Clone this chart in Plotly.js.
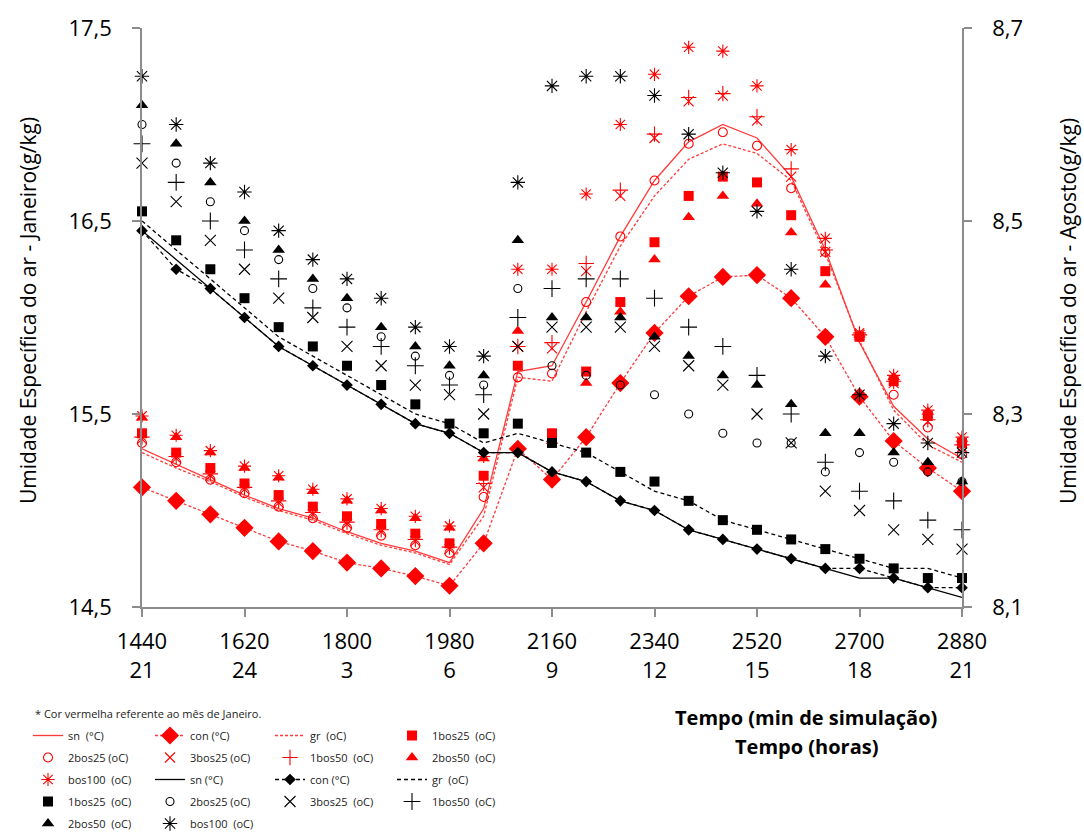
<!DOCTYPE html>
<html>
<head>
<meta charset="utf-8">
<script src="https://cdn.plot.ly/plotly-3.0.1.min.js"></script>
<style>
  html, body { margin: 0; padding: 0; background: #ffffff; }
  #chart { width: 1084px; height: 833px; }
</style>
</head>
<body>
<div id="chart"></div>
<script>
// Simulation time (minutes) and the matching clock hour labels
const minutes = [1440,1500,1560,1620,1680,1740,1800,1860,1920,1980,2040,2100,2160,
                 2220,2280,2340,2400,2460,2520,2580,2640,2700,2760,2820,2880];
const tickMinutes = [1440,1620,1800,1980,2160,2340,2520,2700,2880];
const tickHours = ['21','24','3','6','9','12','15','18','21'];

// January specific humidity (g/kg) - left axis
const janSn     = [15.32,15.24,15.16,15.08,15.01,14.96,14.89,14.83,14.79,14.73,15.01,15.72,15.75,16.08,16.42,16.71,16.91,17.00,16.93,16.73,16.35,15.87,15.54,15.37,15.27];
const janCon    = [15.12,15.05,14.98,14.91,14.84,14.79,14.73,14.70,14.66,14.61,14.83,15.32,15.16,15.38,15.66,15.92,16.11,16.21,16.22,16.10,15.90,15.59,15.36,15.22,15.10];
const janGr     = [15.30,15.22,15.15,15.07,15.00,14.95,14.88,14.82,14.78,14.72,14.97,15.69,15.67,16.03,16.37,16.63,16.82,16.90,16.85,16.71,16.33,15.88,15.52,15.34,15.25];
const jan1bos25 = [15.40,15.30,15.22,15.14,15.08,15.02,14.97,14.93,14.88,14.83,15.18,15.75,15.40,15.72,16.08,16.39,16.63,16.73,16.70,16.53,16.24,15.90,15.67,15.49,15.35];
const jan2bos25 = [15.35,15.25,15.16,15.09,15.02,14.96,14.91,14.87,14.82,14.78,15.07,15.69,15.71,16.08,16.42,16.71,16.90,16.96,16.89,16.67,16.34,15.90,15.60,15.43,15.29];
const jan3bos25 = [15.37,15.27,15.18,15.11,15.04,14.98,14.93,14.89,14.84,14.80,15.12,15.85,15.84,16.24,16.63,16.93,17.12,17.15,17.02,16.73,16.34,15.91,15.66,15.46,15.33];
const jan1bos50 = [15.38,15.28,15.19,15.12,15.05,14.99,14.94,14.90,14.85,14.81,15.14,15.85,15.87,16.28,16.66,16.95,17.14,17.16,17.04,16.77,16.35,15.91,15.67,15.47,15.34];
const jan2bos50 = [15.48,15.38,15.30,15.22,15.17,15.10,15.05,15.00,14.96,14.91,15.27,15.93,15.36,15.66,16.03,16.30,16.52,16.63,16.59,16.44,16.17,15.91,15.69,15.51,15.37];
const janBos100 = [15.49,15.39,15.31,15.23,15.18,15.11,15.06,15.01,14.97,14.92,15.28,16.25,16.25,16.64,17.00,17.26,17.40,17.38,17.20,16.87,16.41,15.92,15.70,15.52,15.38];

// August specific humidity (g/kg) - right axis
const augSn     = [8.49,8.46,8.43,8.40,8.37,8.35,8.33,8.31,8.29,8.28,8.26,8.26,8.24,8.23,8.21,8.20,8.18,8.17,8.16,8.15,8.14,8.13,8.13,8.12,8.11];
const augCon    = [8.49,8.45,8.43,8.40,8.37,8.35,8.33,8.31,8.29,8.28,8.26,8.26,8.24,8.23,8.21,8.20,8.18,8.17,8.16,8.15,8.14,8.14,8.13,8.12,8.12];
const augGr     = [8.50,8.47,8.44,8.41,8.38,8.36,8.34,8.32,8.30,8.29,8.27,8.28,8.27,8.26,8.24,8.22,8.21,8.19,8.18,8.17,8.16,8.15,8.14,8.14,8.13];
const aug1bos25 = [8.51,8.48,8.45,8.42,8.39,8.37,8.35,8.33,8.31,8.29,8.28,8.29,8.27,8.26,8.24,8.23,8.21,8.19,8.18,8.17,8.16,8.15,8.14,8.13,8.13];
const aug2bos25 = [8.60,8.56,8.52,8.49,8.46,8.43,8.41,8.38,8.36,8.34,8.33,8.43,8.35,8.34,8.33,8.32,8.30,8.28,8.27,8.27,8.24,8.26,8.25,8.24,8.23];
const aug3bos25 = [8.56,8.52,8.48,8.45,8.42,8.40,8.37,8.35,8.33,8.32,8.30,8.37,8.39,8.39,8.39,8.37,8.35,8.33,8.30,8.27,8.22,8.20,8.18,8.17,8.16];
const aug1bos50 = [8.58,8.54,8.50,8.47,8.44,8.41,8.39,8.37,8.35,8.33,8.32,8.40,8.43,8.44,8.44,8.42,8.39,8.37,8.34,8.30,8.25,8.22,8.21,8.19,8.18];
const aug2bos50 = [8.62,8.58,8.54,8.50,8.47,8.44,8.42,8.39,8.37,8.35,8.34,8.48,8.40,8.40,8.40,8.38,8.36,8.34,8.33,8.31,8.28,8.28,8.26,8.25,8.23];
const augBos100 = [8.65,8.60,8.56,8.53,8.49,8.46,8.44,8.42,8.39,8.37,8.36,8.54,8.64,8.65,8.65,8.63,8.59,8.55,8.51,8.45,8.36,8.32,8.29,8.27,8.26];

const RED = '#ff0000';
const RED_LINE = '#ff3b3b';
const BLACK = '#000000';
const FONT = 'Open Sans, Noto Sans, sans-serif';

function lineTrace(name, y, axis, color, dash, legend, marker) {
  const t = {
    type: 'scatter', x: minutes, y: y, yaxis: axis, name: name,
    mode: marker ? 'lines+markers' : 'lines',
    line: { color: color, width: 1.3, dash: dash },
    legend: legend, legendgroup: name + axis,
    cliponaxis: false, hoverinfo: 'x+y+name'
  };
  if (marker) t.marker = marker;
  return t;
}
function markerTrace(name, y, axis, legend, marker) {
  return {
    type: 'scatter', x: minutes, y: y, yaxis: axis, name: name,
    mode: 'markers', marker: marker, legend: legend, legendgroup: name + axis,
    cliponaxis: false, hoverinfo: 'x+y+name'
  };
}
const thin = (color) => ({ color: color, width: 1.1 });

const traces = [
  // January (red, left axis)
  lineTrace('sn  (°C)', janSn, 'y', RED_LINE, 'solid', 'legend'),
  lineTrace('con (°C)', janCon, 'y', RED_LINE, '3px,2px', 'legend2',
            { symbol: 'diamond', size: 14, color: RED }),
  lineTrace('gr  (oC)', janGr, 'y', RED_LINE, '3px,2px', 'legend3'),
  markerTrace('1bos25  (oC)', jan1bos25, 'y', 'legend4',
            { symbol: 'square', size: 10, color: RED }),
  markerTrace('2bos25 (oC)', jan2bos25, 'y', 'legend',
            { symbol: 'circle-open', size: 9, color: RED, line: thin(RED) }),
  markerTrace('3bos25 (oC)', jan3bos25, 'y', 'legend2',
            { symbol: 'x-thin-open', size: 10, color: RED, line: thin(RED) }),
  markerTrace('1bos50  (oC)', jan1bos50, 'y', 'legend3',
            { symbol: 'cross-thin-open', size: 11, color: RED, line: thin(RED) }),
  markerTrace('2bos50  (oC)', jan2bos50, 'y', 'legend4',
            { symbol: 'triangle-up', size: 11, color: RED }),
  markerTrace('bos100  (oC)', janBos100, 'y', 'legend',
            { symbol: 'asterisk-open', size: 11, color: RED, line: thin(RED) }),
  // August (black, right axis)
  lineTrace('sn (°C)', augSn, 'y2', BLACK, 'solid', 'legend2'),
  lineTrace('con (°C)', augCon, 'y2', BLACK, '4px,3px', 'legend3',
            { symbol: 'diamond', size: 9, color: BLACK }),
  lineTrace('gr  (oC)', augGr, 'y2', BLACK, '4px,3px', 'legend4'),
  markerTrace('1bos25  (oC)', aug1bos25, 'y2', 'legend',
            { symbol: 'square', size: 10, color: BLACK }),
  markerTrace('2bos25 (oC)', aug2bos25, 'y2', 'legend2',
            { symbol: 'circle-open', size: 8, color: BLACK, line: thin(BLACK) }),
  markerTrace('3bos25  (oC)', aug3bos25, 'y2', 'legend3',
            { symbol: 'x-thin-open', size: 11, color: BLACK, line: thin(BLACK) }),
  markerTrace('1bos50  (oC)', aug1bos50, 'y2', 'legend4',
            { symbol: 'cross-thin-open', size: 12, color: BLACK, line: thin(BLACK) }),
  markerTrace('2bos50  (oC)', aug2bos50, 'y2', 'legend',
            { symbol: 'triangle-up', size: 11, color: BLACK }),
  markerTrace('bos100  (oC)', augBos100, 'y2', 'legend2',
            { symbol: 'asterisk-open', size: 12, color: BLACK, line: thin(BLACK) })
];

// Plot area in pixels, used to place the free-standing texts
const W = 1084, H = 833, L = 142, R = 962, T = 28, B = 607;
const px = (v) => (v - L) / (R - L);
const py = (v) => (B - v) / (B - T);

function legendAt(left, top) {
  return {
    xref: 'container', yref: 'container',
    x: left / W, y: 1 - top / H, xanchor: 'left', yanchor: 'top',
    orientation: 'v', bgcolor: 'rgba(0,0,0,0)', borderwidth: 0,
    tracegroupgap: 3, itemsizing: 'trace',
    font: { family: FONT, size: 11, color: '#222' }
  };
}

const axisCommon = {
  showline: true, linecolor: '#8c8c8c', linewidth: 1.5,
  ticks: 'outside', ticklen: 8, tickcolor: '#8c8c8c', tickwidth: 1.5,
  showgrid: false, zeroline: false,
  tickfont: { family: FONT, size: 22, color: '#000' }
};

const layout = {
  width: W, height: H,
  margin: { l: L, r: W - R, t: T, b: H - B, autoexpand: false },
  paper_bgcolor: '#ffffff', plot_bgcolor: '#ffffff',
  separators: ',.',
  showlegend: true,
  xaxis: Object.assign({}, axisCommon, {
    range: [1440, 2880],
    tickvals: tickMinutes,
    ticktext: tickMinutes.map((m, i) => m + '<br>' + tickHours[i]),
    ticklabelstandoff: 6
  }),
  yaxis: Object.assign({}, axisCommon, {
    range: [14.5, 17.5],
    tickvals: [14.5, 15.5, 16.5, 17.5],
    tickformat: '.1f',
    ticklabelstandoff: 16
  }),
  yaxis2: Object.assign({}, axisCommon, {
    range: [8.1, 8.7],
    tickvals: [8.1, 8.3, 8.5, 8.7],
    tickformat: '.1f',
    overlaying: 'y', side: 'right', anchor: 'x',
    ticklabelstandoff: 16
  }),
  legend: legendAt(28, 721),
  legend2: legendAt(150, 721),
  legend3: legendAt(270, 721),
  legend4: legendAt(392, 721),
  annotations: [
    { text: 'Umidade Específica do ar - Janeiro(g/kg)', xref: 'paper', yref: 'paper',
      x: px(28), y: py(311), textangle: -90, showarrow: false,
      xanchor: 'center', yanchor: 'middle',
      font: { family: FONT, size: 21, color: '#000' } },
    { text: 'Umidade Específica do ar - Agosto(g/kg)', xref: 'paper', yref: 'paper',
      x: px(1068), y: py(311), textangle: -90, showarrow: false,
      xanchor: 'center', yanchor: 'middle',
      font: { family: FONT, size: 21, color: '#000' } },
    { text: 'Tempo (min de simulação)', xref: 'paper', yref: 'paper',
      x: px(806), y: py(717), showarrow: false, xanchor: 'center', yanchor: 'middle',
      font: { family: FONT, size: 20, color: '#000', weight: 'bold' } },
    { text: 'Tempo (horas)', xref: 'paper', yref: 'paper',
      x: px(806), y: py(746), showarrow: false, xanchor: 'center', yanchor: 'middle',
      font: { family: FONT, size: 20, color: '#000', weight: 'bold' } },
    { text: '* Cor vermelha referente ao mês de Janeiro.', xref: 'paper', yref: 'paper',
      x: px(33), y: py(713), showarrow: false, xanchor: 'left', yanchor: 'middle',
      font: { family: FONT, size: 11, color: '#222' } }
  ]
};

Plotly.newPlot('chart', traces, layout, { displayModeBar: false, responsive: false });
</script>
</body>
</html>
